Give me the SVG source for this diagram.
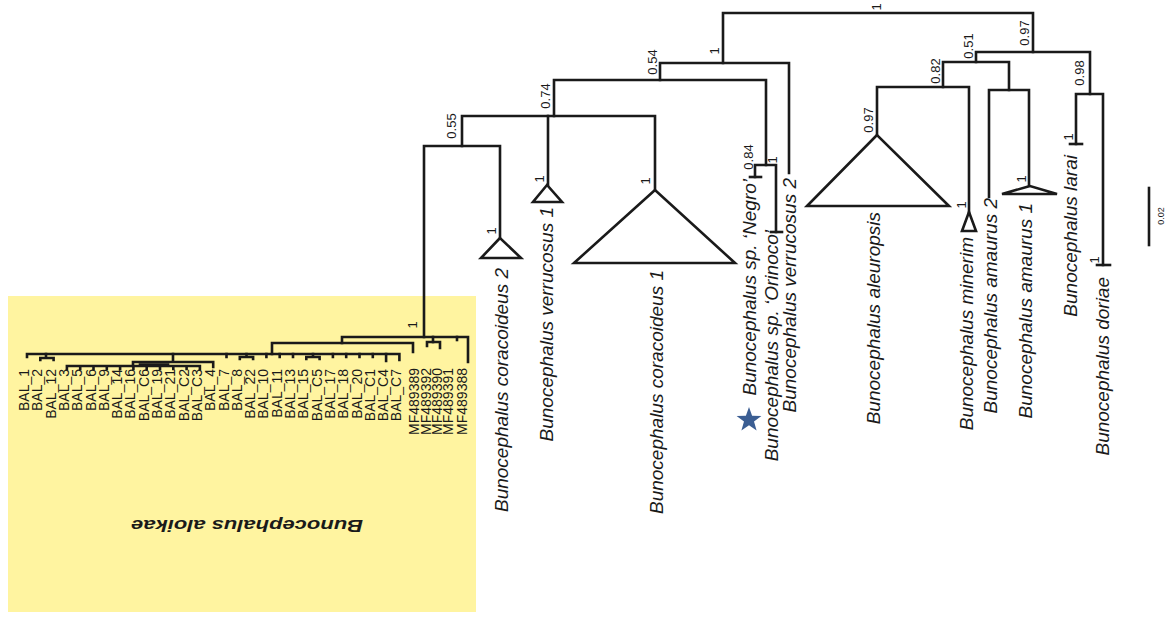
<svg xmlns="http://www.w3.org/2000/svg" width="1174" height="617" viewBox="0 0 1174 617">
<style>
.br{fill:none;stroke:#1a1a1a;stroke-width:2.6;stroke-linecap:square}
.tri{fill:#fff;stroke:#1a1a1a;stroke-width:2.6;stroke-linejoin:miter}
.sp{font-family:"Liberation Sans",Arial,sans-serif;font-style:italic;font-size:19px;fill:#1a1a1a}
.lf{font-family:"Liberation Sans",Arial,sans-serif;font-size:14px;fill:#1a1a1a}
.sup{font-family:"Liberation Sans",Arial,sans-serif;font-size:13px;fill:#1a1a1a}
.sc{font-family:"Liberation Sans",Arial,sans-serif;font-size:9px;fill:#1a1a1a}
</style>
<rect width="1174" height="617" fill="#ffffff"/>
<rect id="aloikae-box" x="8" y="296" width="468" height="316" fill="#FFF4A0"/>

<g id="connectors">
<!-- upper tree -->
<path class="br" d="M723,63 V13 H1033 V52"/>
<path class="br" d="M660,80 V63 H789 V173"/>
<path class="br" d="M554,116 V80 H766 V165"/>
<path class="br" d="M755,177 V165 H776 V232"/>
<path class="br" d="M750,177 H761"/>
<path class="br" d="M771,232 H782"/>
<path class="br" d="M462,146 V116 H655 V190"/>
<path class="br" d="M548,116 V185"/>
<path class="br" d="M424,337 V146 H500 V238"/>
<path class="br" d="M976,62 V52 H1090 V94"/>
<path class="br" d="M943,87 V62 H1009 V90"/>
<path class="br" d="M877,135 V87 H969 V212"/>
<path class="br" d="M989,197 V90 H1029 V186"/>
<path class="br" d="M1076,144 V94 H1103 V265"/>
<path class="br" d="M1070,144 H1082"/>
<path class="br" d="M1097,265 H1110"/>
<!-- aloikae clade -->
<path class="br" d="M342,343 V337 H468 V362"/>
<path class="br" d="M433,337 V342"/>
<path class="br" d="M457,337 V340"/>
<path class="br" d="M427,346 V342 H440 V348"/>
<path class="br" d="M272,354 V343 H413 V352"/>
<path class="br" d="M27,357 V354 H399.4 V360"/>
<path class="br" d="M46,354 V358 M40.3,360 V358 H53.6 V360"/>
<path class="br" d="M173,354 V362 M133,366 V362 H213.2 V367"/>
<path class="br" d="M140,364.5 H168"/>
<path class="br" d="M66.9,369 V366 H199.9 V369 M80.2,366 V369 M93.5,366 V369 M106.8,366 V369 M120.1,366 V369 M133.4,366 V369 M146.7,366 V369 M160,366 V369 M173.3,366 V369 M186.6,366 V369"/>
<path class="br" d="M226.5,354 V357 M246.5,354 V357 M239.8,359 V357 H253.1 V359 M266.4,354 V357 M279.7,354 V357 M293,354 V357 M313,354 V357 M306.3,359 V357 H319.6 V359 M332.9,354 V357 M346.2,354 V357 M359.5,354 V357 M372.8,354 V357 M386.1,354 V361"/>
<!-- scale bar -->
<path class="br" d="M1149,188 V245"/>
</g>

<g id="support-values">
<text class="sup" text-anchor="middle" dominant-baseline="central" transform="translate(876,7) rotate(-90)">1</text>
<text class="sup" text-anchor="middle" dominant-baseline="central" transform="translate(714,51) rotate(-90)">1</text>
<text class="sup" text-anchor="middle" dominant-baseline="central" transform="translate(652,62) rotate(-90)">0.54</text>
<text class="sup" text-anchor="middle" dominant-baseline="central" transform="translate(545,96) rotate(-90)">0.74</text>
<text class="sup" text-anchor="middle" dominant-baseline="central" transform="translate(451,126) rotate(-90)">0.55</text>
<text class="sup" text-anchor="middle" dominant-baseline="central" transform="translate(748,157) rotate(-90)">0.84</text>
<text class="sup" text-anchor="middle" dominant-baseline="central" transform="translate(772,160) rotate(-90)">1</text>
<text class="sup" text-anchor="middle" dominant-baseline="central" transform="translate(1024,33) rotate(-90)">0.97</text>
<text class="sup" text-anchor="middle" dominant-baseline="central" transform="translate(968,46) rotate(-90)">0.51</text>
<text class="sup" text-anchor="middle" dominant-baseline="central" transform="translate(935,71) rotate(-90)">0.82</text>
<text class="sup" text-anchor="middle" dominant-baseline="central" transform="translate(868,120) rotate(-90)">0.97</text>
<text class="sup" text-anchor="middle" dominant-baseline="central" transform="translate(1079,73) rotate(-90)">0.98</text>
<text class="sup" text-anchor="middle" dominant-baseline="central" transform="translate(412,325) rotate(-90)">1</text>
</g>

<g id="coracoideus2">
<path class="tri" d="M500,238 L481,258 L521,258 Z"/>
<text class="sup" text-anchor="middle" dominant-baseline="central" transform="translate(491,231) rotate(-90)">1</text>
<text class="sp" text-anchor="end" transform="translate(508,268) rotate(-90)">Bunocephalus coracoideus 2</text>
</g>
<g id="verrucosus1">
<path class="tri" d="M547,185 L533,202 L562,202 Z"/>
<text class="sup" text-anchor="middle" dominant-baseline="central" transform="translate(539,179) rotate(-90)">1</text>
<text class="sp" text-anchor="end" transform="translate(553,207) rotate(-90)">Bunocephalus verrucosus 1</text>
</g>
<g id="coracoideus1">
<path class="tri" d="M655,190 L574,263 L735,263 Z"/>
<text class="sup" text-anchor="middle" dominant-baseline="central" transform="translate(645,181) rotate(-90)">1</text>
<text class="sp" text-anchor="end" transform="translate(663,270) rotate(-90)">Bunocephalus coracoideus 1</text>
</g>
<g id="negro">
<text class="sp" text-anchor="end" transform="translate(756,179) rotate(-90)">Bunocephalus sp. ‘Negro’</text>
<path d="M749,407 L752.1,415.7 L761.4,416 L754,421.6 L756.6,430.5 L749,425.3 L741.4,430.5 L744,421.6 L736.6,416 L745.9,415.7 Z" fill="#3B5E93"/>
</g>
<g id="orinoco">
<text class="sp" text-anchor="end" transform="translate(778,230) rotate(-90)">Bunocephalus sp. ‘Orinoco’</text>
</g>
<g id="verrucosus2">
<text class="sp" text-anchor="end" transform="translate(796,178) rotate(-90)">Bunocephalus verrucosus 2</text>
</g>
<g id="aleuropsis">
<path class="tri" d="M877,135 L807,206 L949,206 Z"/>
<text class="sp" text-anchor="end" transform="translate(880,212) rotate(-90)">Bunocephalus aleuropsis</text>
</g>
<g id="minerim">
<path class="tri" d="M969,212 L962,231 L976,231 Z"/>
<text class="sup" text-anchor="middle" dominant-baseline="central" transform="translate(961,205) rotate(-90)">1</text>
<text class="sp" text-anchor="end" transform="translate(973,237) rotate(-90)">Bunocephalus minerim</text>
</g>
<g id="amaurus2">
<text class="sp" text-anchor="end" transform="translate(997,198) rotate(-90)">Bunocephalus amaurus 2</text>
</g>
<g id="amaurus1">
<path class="tri" d="M1030,186 L1002,194 L1057,194 Z"/>
<text class="sup" text-anchor="middle" dominant-baseline="central" transform="translate(1021,179) rotate(-90)">1</text>
<text class="sp" text-anchor="end" transform="translate(1032,203) rotate(-90)">Bunocephalus amaurus 1</text>
</g>
<g id="larai">
<text class="sup" text-anchor="middle" dominant-baseline="central" transform="translate(1068,137) rotate(-90)">1</text>
<text class="sp" text-anchor="end" transform="translate(1077,155) rotate(-90)">Bunocephalus larai</text>
</g>
<g id="doriae">
<text class="sup" text-anchor="middle" dominant-baseline="central" transform="translate(1094,260) rotate(-90)">1</text>
<text class="sp" text-anchor="end" transform="translate(1109,277) rotate(-90)">Bunocephalus doriae</text>
</g>
<g id="scale">
<text class="sc" text-anchor="middle" dominant-baseline="central" transform="translate(1161,216) rotate(-90)">0.02</text>
</g>

<g id="aloikae-leaves">
<text class="lf" text-anchor="end" transform="translate(29,369) rotate(-90)">BAL_1</text>
<text class="lf" text-anchor="end" transform="translate(42.3,369) rotate(-90)">BAL_2</text>
<text class="lf" text-anchor="end" transform="translate(55.6,369) rotate(-90)">BAL_12</text>
<text class="lf" text-anchor="end" transform="translate(68.9,369) rotate(-90)">BAL_3</text>
<text class="lf" text-anchor="end" transform="translate(82.2,369) rotate(-90)">BAL_5</text>
<text class="lf" text-anchor="end" transform="translate(95.5,369) rotate(-90)">BAL_6</text>
<text class="lf" text-anchor="end" transform="translate(108.8,369) rotate(-90)">BAL_9</text>
<text class="lf" text-anchor="end" transform="translate(122.1,369) rotate(-90)">BAL_14</text>
<text class="lf" text-anchor="end" transform="translate(135.4,369) rotate(-90)">BAL_16</text>
<text class="lf" text-anchor="end" transform="translate(148.7,369) rotate(-90)">BAL_C6</text>
<text class="lf" text-anchor="end" transform="translate(162,369) rotate(-90)">BAL_19</text>
<text class="lf" text-anchor="end" transform="translate(175.3,369) rotate(-90)">BAL_21</text>
<text class="lf" text-anchor="end" transform="translate(188.6,369) rotate(-90)">BAL_C2</text>
<text class="lf" text-anchor="end" transform="translate(201.9,369) rotate(-90)">BAL_C3</text>
<text class="lf" text-anchor="end" transform="translate(215.2,369) rotate(-90)">BAL_4</text>
<text class="lf" text-anchor="end" transform="translate(228.5,369) rotate(-90)">BAL_7</text>
<text class="lf" text-anchor="end" transform="translate(241.8,369) rotate(-90)">BAL_8</text>
<text class="lf" text-anchor="end" transform="translate(255.1,369) rotate(-90)">BAL_22</text>
<text class="lf" text-anchor="end" transform="translate(268.4,369) rotate(-90)">BAL_10</text>
<text class="lf" text-anchor="end" transform="translate(281.7,369) rotate(-90)">BAL_11</text>
<text class="lf" text-anchor="end" transform="translate(295,369) rotate(-90)">BAL_13</text>
<text class="lf" text-anchor="end" transform="translate(308.3,369) rotate(-90)">BAL_15</text>
<text class="lf" text-anchor="end" transform="translate(321.6,369) rotate(-90)">BAL_C5</text>
<text class="lf" text-anchor="end" transform="translate(334.9,369) rotate(-90)">BAL_17</text>
<text class="lf" text-anchor="end" transform="translate(348.2,369) rotate(-90)">BAL_18</text>
<text class="lf" text-anchor="end" transform="translate(361.5,369) rotate(-90)">BAL_20</text>
<text class="lf" text-anchor="end" transform="translate(374.8,369) rotate(-90)">BAL_C1</text>
<text class="lf" text-anchor="end" transform="translate(388.1,369) rotate(-90)">BAL_C4</text>
<text class="lf" text-anchor="end" transform="translate(401.4,369) rotate(-90)">BAL_C7</text>
<text class="lf" text-anchor="end" transform="translate(419,368) rotate(-90)">MF489389</text>
<text class="lf" text-anchor="end" transform="translate(431,368) rotate(-90)">MF489392</text>
<text class="lf" text-anchor="end" transform="translate(441.5,368) rotate(-90)">MF489390</text>
<text class="lf" text-anchor="end" transform="translate(452.5,368) rotate(-90)">MF489391</text>
<text class="lf" text-anchor="end" transform="translate(467,368) rotate(-90)">MF489388</text>
</g>
<g id="aloikae-title">
<text font-family="Liberation Sans, Arial, sans-serif" font-weight="bold" font-style="italic" font-size="17" fill="#1a1a1a" text-anchor="middle" textLength="232" lengthAdjust="spacingAndGlyphs" transform="translate(247,520) rotate(180)">Bunocephalus aloikae</text>
</g>
</svg>
